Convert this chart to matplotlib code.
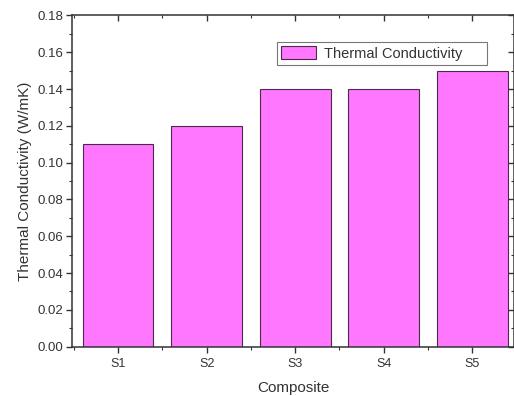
import matplotlib.pyplot as plt
from matplotlib.ticker import MultipleLocator

# datos
muestras = ['S1', 'S2', 'S3', 'S4', 'S5']
conductividad = [0.11, 0.12, 0.14, 0.14, 0.15]

plt.rcParams['font.family'] = ['Liberation Sans', 'DejaVu Sans']

fig = plt.figure(figsize=(5.14, 3.96), dpi=100)
ax = fig.add_axes([0.140, 0.1245, 0.860, 0.8365])

pos = list(range(1, len(muestras) + 1))
ax.bar(pos, conductividad, width=0.8, color='#FF77FF', edgecolor='#4a2a4a',
       linewidth=0.8, label='Thermal Conductivity')

ax.set_xlim(0.48, 5.47)
ax.set_ylim(0, 0.18)
ax.set_xticks(pos)
ax.set_xticklabels(muestras)
ax.xaxis.set_minor_locator(MultipleLocator(0.5))
ax.yaxis.set_major_locator(MultipleLocator(0.02))
ax.yaxis.set_minor_locator(MultipleLocator(0.01))
ax.yaxis.set_major_formatter(plt.FormatStrFormatter('%.2f'))

# estilo Origin: ticks afuera abajo/izquierda, adentro arriba/derecha
ax.tick_params(which='both', direction='out', top=False, right=False,
               colors='#333333')
ax.tick_params(which='major', length=4, width=1)
ax.tick_params(which='minor', length=2.5, width=0.8)
ax.tick_params(axis='y', labelsize=9.5, pad=2)
ax.tick_params(axis='x', labelsize=9, pad=4)

sec_x = ax.secondary_xaxis('top')
sec_x.set_xticks(pos)
sec_x.xaxis.set_minor_locator(MultipleLocator(0.5))
sec_x.tick_params(which='both', direction='in', labeltop=False, colors='#333333')
sec_x.tick_params(which='major', length=4, width=1)
sec_x.tick_params(which='minor', length=2.5, width=0.8)

sec_y = ax.secondary_yaxis('right')
sec_y.yaxis.set_major_locator(MultipleLocator(0.02))
sec_y.yaxis.set_minor_locator(MultipleLocator(0.01))
sec_y.tick_params(which='both', direction='in', labelright=False, colors='#333333')
sec_y.tick_params(which='major', length=4, width=1)
sec_y.tick_params(which='minor', length=2.5, width=0.8)

for s in ax.spines.values():
    s.set_linewidth(1.1)
    s.set_color('#333333')
sec_x.spines['top'].set_visible(False)
sec_y.spines['right'].set_visible(False)

ax.set_xlabel('Composite', fontsize=11, color='#333333', labelpad=8)
ax.set_ylabel('Thermal Conductivity (W/mK)', fontsize=11, color='#333333', labelpad=4)

leg = ax.legend(loc='upper left', bbox_to_anchor=(0.464, 0.92, 0.475, 0),
                mode='expand', fontsize=10.5, frameon=True, fancybox=False,
                handlelength=2.4, handleheight=1.0, borderpad=0.3,
                handletextpad=0.5, borderaxespad=0, labelcolor='#333333')
leg.get_frame().set_edgecolor('#555555')
leg.get_frame().set_linewidth(0.8)

plt.savefig('out.png', dpi=100)
